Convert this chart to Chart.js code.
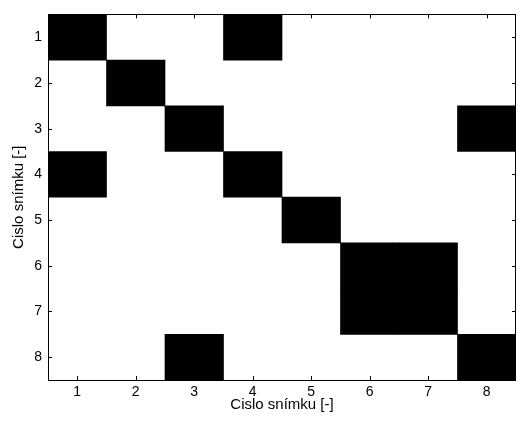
<!DOCTYPE html>
<html>
<head>
<meta charset="utf-8">
<script src="https://cdn.jsdelivr.net/npm/chart.js@4.4.0/dist/chart.umd.min.js"></script>
<style>
  html, body { margin: 0; padding: 0; background: #fff; }
  #wrap { width: 518px; height: 421px; position: relative; }
</style>
</head>
<body>
<div id="wrap"><canvas id="matrixChart"></canvas></div>
<script>
// osa x: cislo snimku
const colLabels = ['1', '2', '3', '4', '5', '6', '7', '8'];
// osa y: cislo snimku
const rowTicks = [1, 2, 3, 4, 5, 6, 7, 8];
// 1 = cerna bunka
const row1 = [1, 0, 0, 1, 0, 0, 0, 0];
const row2 = [0, 1, 0, 0, 0, 0, 0, 0];
const row3 = [0, 0, 1, 0, 0, 0, 0, 1];
const row4 = [1, 0, 0, 1, 0, 0, 0, 0];
const row5 = [0, 0, 0, 0, 1, 0, 0, 0];
const row6 = [0, 0, 0, 0, 0, 1, 1, 0];
const row7 = [0, 0, 0, 0, 0, 1, 1, 0];
const row8 = [0, 0, 1, 0, 0, 0, 0, 1];
const rows = [row1, row2, row3, row4, row5, row6, row7, row8];

const axisTitle = 'Cislo snímku [-]';
const fontFamily = '"Liberation Sans", Arial, sans-serif';

// jedna rada = jeden dataset plovoucich sloupcu
const datasets = rows.map(function(row, i) {
    const r = rowTicks[i];
    return {
        label: 'radek ' + r,
        data: row.map(v => v ? [r - 0.5, r + 0.5] : null),
        backgroundColor: '#000',
        borderWidth: 0,
        barPercentage: 1,
        categoryPercentage: 1,
        grouped: false
    };
});

// ramecek a ticky dovnitr (styl matlabu)
const frameTicks = {
    id: 'frameTicks',
    afterDatasetsDraw(chart) {
        const ctx = chart.ctx;
        const a = chart.chartArea;
        const xs = chart.scales.x, ys = chart.scales.y;
        const len = 4;
        ctx.save();
        ctx.strokeStyle = '#000';
        ctx.lineWidth = 1;
        ctx.beginPath();
        xs.ticks.forEach((t, i) => {
            const px = Math.round(xs.getPixelForTick(i)) + 0.5;
            ctx.moveTo(px, a.top); ctx.lineTo(px, a.top + len);
            ctx.moveTo(px, a.bottom); ctx.lineTo(px, a.bottom - len);
        });
        rowTicks.forEach(v => {
            const py = Math.round(ys.getPixelForValue(v)) + 0.5;
            ctx.moveTo(a.left, py); ctx.lineTo(a.left + len, py);
            ctx.moveTo(a.right, py); ctx.lineTo(a.right - len, py);
        });
        ctx.stroke();
        ctx.strokeRect(Math.round(a.left) + 0.5, Math.round(a.top) + 0.5,
            Math.round(a.right - a.left) - 1, Math.round(a.bottom - a.top));
        ctx.restore();
    }
};

document.addEventListener('DOMContentLoaded', function() {
    const ctx = document.getElementById('matrixChart').getContext('2d');
    new Chart(ctx, {
        type: 'bar',
        data: { labels: colLabels, datasets: datasets },
        options: {
            responsive: true,
            maintainAspectRatio: false,
            animation: false,
            layout: { padding: { top: 10, right: 2, left: 0, bottom: 0 } },
            plugins: {
                legend: { display: false },
                tooltip: { enabled: false }
            },
            scales: {
                x: {
                    type: 'category',
                    offset: true,
                    grid: { display: false, drawTicks: false },
                    border: { display: false },
                    ticks: {
                        color: '#000',
                        font: { family: fontFamily, size: 14 },
                        padding: 4,
                        autoSkip: false,
                        maxRotation: 0
                    },
                    title: {
                        display: true,
                        text: axisTitle,
                        color: '#000',
                        font: { family: fontFamily, size: 15 },
                        padding: { top: 0, bottom: 7 }
                    },
                    afterFit(scale) { scale.height = 41; }
                },
                y: {
                    type: 'linear',
                    min: 0.5,
                    max: 8.5,
                    reverse: true,
                    grid: { display: false, drawTicks: false },
                    border: { display: false },
                    afterBuildTicks(scale) {
                        scale.ticks = rowTicks.map(v => ({ value: v }));
                    },
                    ticks: {
                        color: '#000',
                        font: { family: fontFamily, size: 14 },
                        padding: 6,
                        autoSkip: false
                    },
                    title: {
                        display: true,
                        text: axisTitle,
                        color: '#000',
                        font: { family: fontFamily, size: 15 },
                        padding: { top: 10, bottom: 0 }
                    },
                    afterFit(scale) { scale.width = 48; }
                }
            }
        },
        plugins: [frameTicks]
    });
});
</script>
</body>
</html>
